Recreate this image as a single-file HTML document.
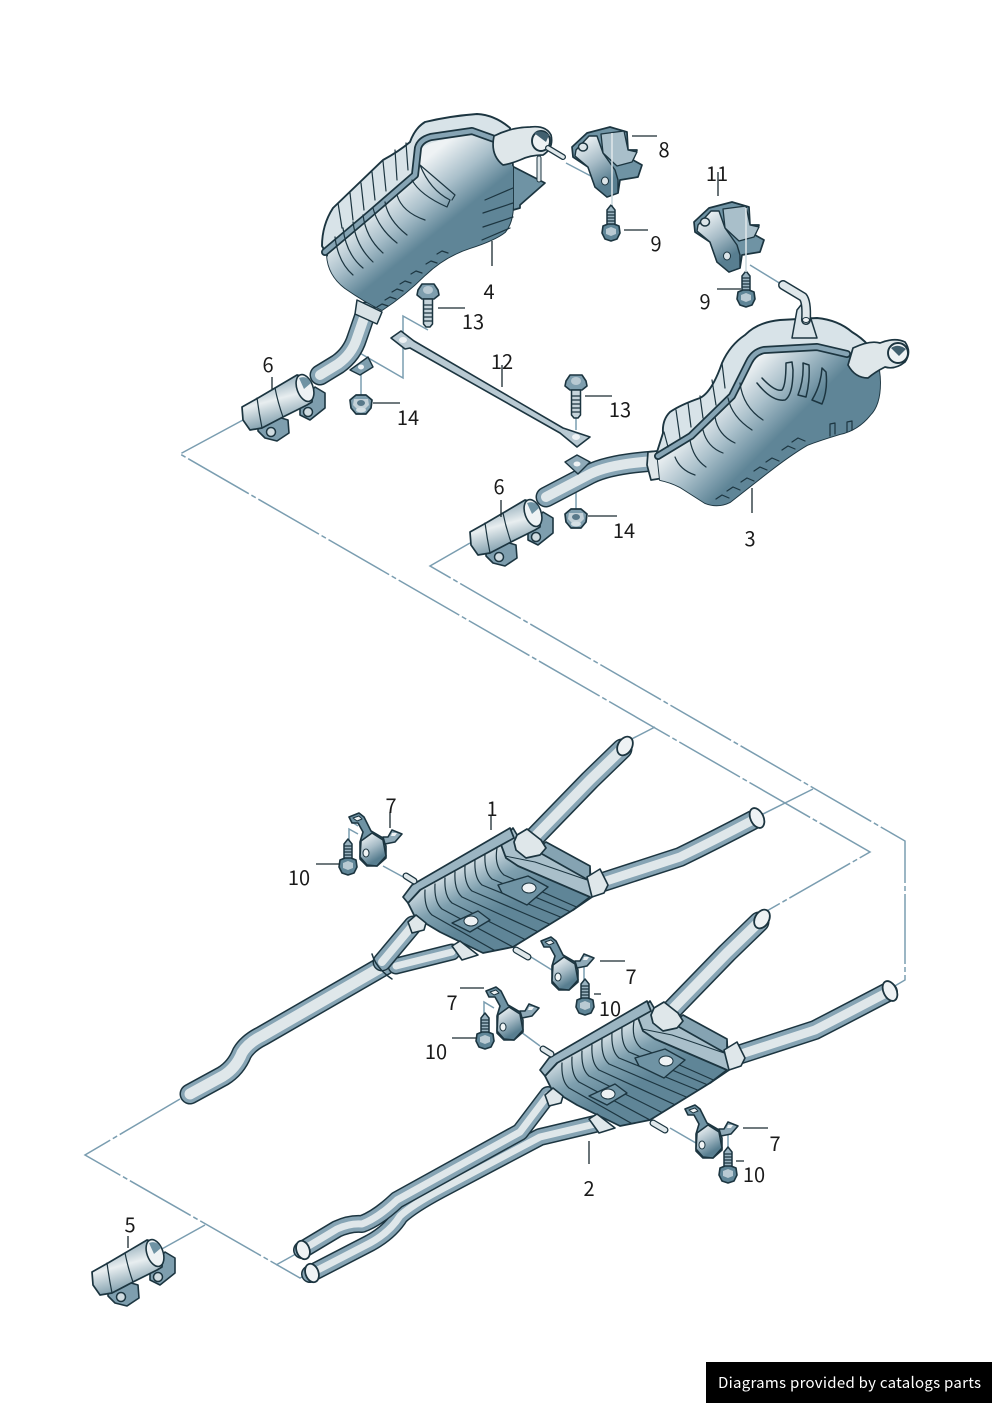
<!DOCTYPE html>
<html><head><meta charset="utf-8"><style>
html,body{margin:0;padding:0;background:#fff;width:992px;height:1403px;overflow:hidden}
svg{display:block}
text{font-family:"Noto Sans CJK JP","Liberation Sans",sans-serif;font-size:20px;fill:#1a1a1a;text-anchor:middle}
.d{fill:none;stroke:#7a9db0;stroke-width:1.5;stroke-dasharray:70 3 5 3}
.a{fill:none;stroke:#7a9db0;stroke-width:1.5}
.l{fill:none;stroke:#1a2a30;stroke-width:1.3}
.o{stroke:#1c3540;stroke-linejoin:round;stroke-linecap:round}
.r{fill:none;stroke:#1c3540;stroke-width:1.2;stroke-linecap:round;stroke-linejoin:round}
.t1{fill:none;stroke:#1c3540;stroke-linecap:round;stroke-linejoin:round}
.t2{fill:none;stroke:#86a4b4;stroke-linecap:round;stroke-linejoin:round}
.t3{fill:none;stroke:#dfe7ea;stroke-linecap:round;stroke-linejoin:round}
</style></head><body>
<svg width="992" height="1403" viewBox="0 0 992 1403" xmlns="http://www.w3.org/2000/svg">
<defs>
<linearGradient id="b4" gradientUnits="userSpaceOnUse" x1="400" y1="180" x2="447" y2="238"><stop offset="0" stop-color="#eef2f4"/><stop offset=".45" stop-color="#a9bfca"/><stop offset=".85" stop-color="#5f8597"/></linearGradient>
<linearGradient id="b3" gradientUnits="userSpaceOnUse" x1="720" y1="395" x2="775" y2="450"><stop offset="0" stop-color="#eef2f4"/><stop offset=".45" stop-color="#a9bfca"/><stop offset=".9" stop-color="#5f8597"/></linearGradient>
<linearGradient id="cg" x1="0.2" y1="0.1" x2="0.55" y2="0.85"><stop offset="0" stop-color="#e6edf0"/><stop offset=".5" stop-color="#a6bbc6"/><stop offset="1" stop-color="#587e90"/></linearGradient>
<linearGradient id="mb" x1="0" y1="0.45" x2="0.3" y2="0.8"><stop offset="0" stop-color="#d8e2e7"/><stop offset=".5" stop-color="#7e9fae"/><stop offset="1" stop-color="#5f8597"/></linearGradient>
<linearGradient id="cl" x1="0.3" y1="0" x2="0.65" y2="1"><stop offset="0" stop-color="#7395a6"/><stop offset=".45" stop-color="#e8eef0"/><stop offset="1" stop-color="#5f8597"/></linearGradient>
<linearGradient id="up" x1="0" y1="0" x2="1" y2="1"><stop offset="0" stop-color="#b9cad3"/><stop offset="1" stop-color="#e6edf0"/></linearGradient>
<clipPath id="mc"><path d="M408,903L423,887L500,842L506,858L518,866L590,897L573,910L513,947L483,953L440,932L415,917Z"/></clipPath>

<g id="bolt">
<path class="o" fill="#9ab3c0" stroke-width="1.5" d="M-4,-22L0,-27L4,-22V-7H-4Z"/>
<path class="r" d="M-3.5,-20H3.5M-3.5,-17H3.5M-3.5,-14H3.5M-3.5,-11H3.5"/>
<path class="o" fill="#5f8597" stroke-width="1.6" d="M-8,-6L-3,-8H3L8,-6L9,1L6,7L0,9L-6,7L-9,1Z"/>
<path fill="#b9cad3" d="M-5,-3L0,-5L5,-3L5,2L0,4L-5,2Z"/>
</g>
<g id="hbolt">
<path class="o" fill="#7e9eae" stroke-width="1.6" d="M-10,-8L-6,-14H6L10,-8L11,-3L6,1H-6L-11,-3Z"/>
<ellipse cx="0" cy="-8" rx="5" ry="4" fill="#b8c9d2"/>
<path class="o" fill="#c6d4db" stroke-width="1.5" d="M-4.5,1H4.5V26L2,29H-2L-4.5,26Z"/>
<path class="r" d="M-4,7H4M-4,11H4M-4,15H4M-4,19H4M-4,23H4"/>
</g>
<g id="nut">
<path class="o" fill="#7e9eae" stroke-width="1.7" d="M-11,-4L-5,-9H5L11,-4L10,4L5,10H-5L-10,4Z"/>
<path fill="#c3d1d8" d="M-7,-5H7L8,1L4,5H-4L-8,1Z"/>
<ellipse cx="0" cy="-1" rx="4" ry="3" fill="#59798a"/>
<ellipse cx="0" cy="6" rx="5" ry="2.5" fill="#d5e0e5"/>
</g>
<g id="clamp">
<path class="o" fill="#7e9eae" stroke-width="1.6" d="M108,1290L128,1282L138,1285L139,1298L127,1306L115,1303L108,1296Z"/>
<path class="o" fill="#7e9eae" stroke-width="1.6" d="M150,1268L165,1252L175,1258L175,1273L160,1285L150,1280Z"/>
<circle cx="121" cy="1297" r="4.5" fill="#cfdbe0" stroke="#1c3540" stroke-width="1.5"/>
<circle cx="158" cy="1277" r="4.5" fill="#cfdbe0" stroke="#1c3540" stroke-width="1.5"/>
<path class="o" fill="url(#cl)" stroke-width="1.7" d="M92,1272L108,1263L125,1253L147,1240L155,1242L163,1253L162,1267L157,1270L133,1282L112,1293L100,1295L93,1285Z"/>
<ellipse cx="155" cy="1253" rx="8" ry="14" transform="rotate(-20 155 1253)" fill="#eef2f4" stroke="#1c3540" stroke-width="1.6"/>
<path d="M149,1243Q157,1240 161,1248L154,1254Z" fill="#6f93a4"/>
<path class="r" d="M107,1263Q109,1278 112,1293M125,1253Q128,1268 133,1282"/>
</g>
<g id="hanger">
<path class="o" fill="#6f93a4" stroke-width="1.6" d="M-18,-23L-8,-27L-3,-23L4,-9L16,-2L19,6L19,18L10,26L0,26L-7,19L-7,2L-4,-8L-9,-17L-15,-17Z"/>
<path class="o" fill="#eef2f4" stroke-width="1" d="M-14,-22L-8,-24L-5,-21L-10,-19Z"/>
<path class="o" fill="url(#cg)" stroke-width="1.6" d="M-6,1L5,-7L16,0L19,16L10,26L0,25L-7,17Z"/>
<ellipse cx="-1" cy="13" rx="3" ry="4" fill="#f0f4f5" stroke="#1c3540"/>
<path class="o" fill="#8faab8" stroke-width="1.6" d="M16,-3L21,-3L25,-10L35,-6L28,2L18,4Z"/>
<path fill="#eef2f4" d="M25,-7L30,-7L28,-4L24,-4Z"/>
</g>
<g id="br">
<path class="o" fill="#6f93a4" stroke-width="1.7" d="M-37,19L-22,5L1,-1L18,4L19,22L28,22L24,32L33,37L29,49L11,52L9,65L-2,69L-14,59L-21,39L-36,29Z"/>
<path class="o" fill="#a9bfca" stroke-width="1.3" d="M-8,6L15,3L19,22L28,24L23,34L8,38L-6,25Z"/>
<path class="o" fill="url(#cg)" stroke-width="1.4" d="M-33,22L-20,8L-12,8L-6,25L6,42L9,52L9,65L-2,69L-14,59L-21,39L-34,28Z"/>
<ellipse cx="-26" cy="19" rx="4.5" ry="4" fill="#dce5e9" stroke="#1c3540" stroke-width="1.5"/>
<ellipse cx="-4" cy="53" rx="3.5" ry="4" fill="#dce5e9" stroke="#1c3540"/>
</g>
<g id="mid">
<path class="t1" stroke-width="21" d="M524,848L590,780L622,749"/>
<path class="t2" stroke-width="18" d="M524,848L590,780L622,749"/>
<path class="t3" stroke-width="10" d="M524,848L590,780L622,749"/>
<ellipse cx="625" cy="746" rx="7" ry="10" transform="rotate(30 625 746)" fill="#eef2f4" stroke="#1c3540" stroke-width="1.8"/>
<path class="o" fill="#a9bfca" stroke-width="1.7" d="M500,842L513,828L520,840L590,868L592,897L573,910L520,900Z"/>
<path class="o" fill="#85a3b2" stroke-width="1.7" d="M546,842L590,866L590,881L535,850Z"/>
<path class="o" fill="#a9bfca" stroke-width="1" d="M505,856L535,862L590,881L592,897L573,910L505,870Z"/>
<path class="o" fill="url(#mb)" stroke-width="1.8" d="M408,903L423,887L500,842L506,858L518,866L590,897L573,910L513,947L483,953L440,932L415,917Z"/>
<path class="o" fill="#9bb5c2" stroke-width="1.7" d="M403,897L412,885L510,828L514,838L420,890L408,903Z"/>
<g clip-path="url(#mc)"><path class="r" d="M425,890Q424,908 432,915L515,962M435,884Q434,902 442,909L528,955M445,878Q444,896 452,903L542,948M455,872Q454,890 462,897L556,940M465,866Q464,884 472,891L568,932M475,860Q474,878 482,885L580,925M485,854Q484,872 492,879L590,920M497,848Q494,866 504,875L590,913"/></g>
<path class="o" fill="#6f93a4" stroke-width="1.4" d="M498,885L528,876L548,887L527,905L502,893Z"/>
<ellipse cx="529" cy="888" rx="7" ry="5" fill="#eef2f4" stroke="#1c3540"/>
<path class="o" fill="#6f93a4" stroke-width="1.4" d="M452,923L478,911L490,920L470,932Z"/>
<ellipse cx="471" cy="921" rx="7" ry="5" fill="#eef2f4" stroke="#1c3540"/>
<path class="o" fill="#dfe7ea" stroke-width="1.7" d="M517,835L527,829L541,840L546,848L540,855L526,858L516,850L514,842Z"/>
<path class="o" fill="#dfe7ea" stroke-width="1.6" d="M587,877L600,869L608,885L604,893L592,897Z"/>
<path class="o" fill="#dfe7ea" stroke-width="1.6" d="M408,922L416,915L426,923L424,930L412,933Z"/>
<path class="o" fill="#dfe7ea" stroke-width="1.6" d="M452,946L460,941L478,955L462,960Z"/>
<path class="t1" stroke-width="7" d="M406,876L414,881"/><path class="t3" stroke-width="4.5" d="M406,876L414,881"/>
<path class="t1" stroke-width="7" d="M516,950L528,957"/><path class="t3" stroke-width="4.5" d="M516,950L528,957"/>
</g>
</defs>

<!-- dash lines -->
<path class="d" d="M243,420L180,454L870,852L765,912"/>
<path class="d" d="M470,543L430,566L905,841L905,980L888,990"/>
<path class="d" d="M655,727L620,745"/>
<path class="d" d="M813,789L757,817"/>
<path class="d" d="M180,1099L85,1155L300,1278L312,1272"/>
<path class="d" d="M205,1225L160,1250"/>
<path class="a" d="M276,1265L303,1250"/>
<path class="a" d="M358,352L403,378L403,316L428,330"/>
<path class="a" d="M361,362V396"/>
<path class="a" d="M576,460V512M576,414V430"/>
<path class="a" d="M566,163L606,184M612,130V210"/>
<path class="a" d="M746,214V278M750,265L781,284"/>
<path class="a" d="M349,851V829L358,834M358,826L352,822"/>
<path class="a" d="M383,866L405,878M584,988V965M531,957L560,975M484,1020L484,1002L494,1008M521,1032L540,1046M728,1155V1130M670,1128L708,1150"/>

<!-- pipes lower 1 -->
<path class="t1" stroke-width="21" d="M190,1094L223,1076Q236,1068 242,1053Q248,1043 262,1036L385,965"/>
<path class="t2" stroke-width="18" d="M190,1094L223,1076Q236,1068 242,1053Q248,1043 262,1036L385,965"/>
<path class="t3" stroke-width="11" d="M190,1094L223,1076Q236,1068 242,1053Q248,1043 262,1036L385,965"/>
<path class="t1" stroke-width="17" d="M396,966L452,952"/><path class="t2" stroke-width="14" d="M396,966L452,952"/><path class="t3" stroke-width="7" d="M396,966L452,952"/>
<path class="t1" stroke-width="19" d="M382,962L413,925"/><path class="t2" stroke-width="16" d="M382,962L413,925"/><path class="t3" stroke-width="8" d="M382,962L413,925"/>
<path class="r" style="stroke-width:1.5" d="M372,954Q376,968 392,979"/>
<path class="t1" stroke-width="20" d="M603,882L680,857Q715,840 753,820"/>
<path class="t2" stroke-width="17" d="M603,882L680,857Q715,840 753,820"/>
<path class="t3" stroke-width="9" d="M603,882L680,857Q715,840 753,820"/>
<ellipse cx="757" cy="818" rx="6.5" ry="10.5" transform="rotate(-25 757 818)" fill="#eef2f4" stroke="#1c3540" stroke-width="1.8"/>

<use href="#mid"/>

<!-- assembly 2 pipes -->
<path class="t1" stroke-width="20" d="M738,1055L815,1030Q850,1012 888,992"/>
<path class="t2" stroke-width="17" d="M738,1055L815,1030Q850,1012 888,992"/>
<path class="t3" stroke-width="9" d="M738,1055L815,1030Q850,1012 888,992"/>
<ellipse cx="890" cy="991" rx="6.5" ry="10.5" transform="rotate(-25 890 991)" fill="#eef2f4" stroke="#1c3540" stroke-width="1.8"/>
<path class="t1" stroke-width="18" d="M310,1274L370,1243Q390,1232 400,1216Q412,1205 440,1190L540,1137L595,1124"/>
<path class="t2" stroke-width="15" d="M310,1274L370,1243Q390,1232 400,1216Q412,1205 440,1190L540,1137L595,1124"/>
<path class="t3" stroke-width="7" d="M310,1274L370,1243Q390,1232 400,1216Q412,1205 440,1190L540,1137L595,1124"/>
<path class="t1" stroke-width="18" d="M302,1250L337,1229Q350,1223 362,1224Q378,1218 397,1200L520,1132L548,1095"/>
<path class="t2" stroke-width="15" d="M302,1250L337,1229Q350,1223 362,1224Q378,1218 397,1200L520,1132L548,1095"/>
<path class="t3" stroke-width="7" d="M302,1250L337,1229Q350,1223 362,1224Q378,1218 397,1200L520,1132L548,1095"/>
<ellipse cx="303" cy="1250" rx="6.5" ry="9.5" transform="rotate(-20 303 1250)" fill="#eef2f4" stroke="#1c3540" stroke-width="1.8"/>
<ellipse cx="312" cy="1273" rx="6.5" ry="9.5" transform="rotate(-20 312 1273)" fill="#eef2f4" stroke="#1c3540" stroke-width="1.8"/>

<use href="#mid" x="137" y="173"/>

<!-- muffler 4 -->
<path class="t1" stroke-width="21" d="M320,375L338,364Q352,354 357,338L366,312"/>
<path class="t2" stroke-width="18" d="M320,375L338,364Q352,354 357,338L366,312"/>
<path class="t3" stroke-width="10" d="M320,375L338,364Q352,354 357,338L366,312"/>
<path class="o" fill="#7e9eae" stroke-width="1.4" d="M350,370L368,357L373,367L360,375Z"/><ellipse cx="361" cy="367" rx="3" ry="2.5" fill="#eef2f4"/>
<path class="o" fill="#d8e2e6" stroke-width="1.5" d="M357,300L382,312L377,324L355,314Z"/>
<path class="o" fill="#6f93a4" stroke-width="1.7" d="M510,165L545,183L520,205L520,208L513,210Z"/>
<path class="o" fill="#d8e3e8" stroke-width="1.9" d="M322,246Q322,225 333,208L383,160Q398,152 410,142Q415,128 425,122Q450,116 477,114Q495,115 510,128L513,167L513,205Q513,222 505,232Q495,240 470,248Q445,256 425,275Q405,295 382,310Q365,302 345,288Q328,275 327,255Z"/>
<path fill="url(#b4)" d="M327,257L373,218L418,180Q418,150 422,148Q431,140 472,135Q490,138 500,146L513,167L513,205Q513,222 505,232Q495,240 470,248Q445,256 425,275Q405,295 382,310Q365,302 345,288Q328,275 327,255Z"/>
<path class="t1" stroke-width="8" d="M325,252L370,214L415,175L418,148Q420,140 431,137L472,131L500,141"/>
<path class="t2" stroke-width="4.5" d="M325,252L370,214L415,175L418,148Q420,140 431,137L472,131L500,141"/>
<path class="r" d="M335,237Q338,262 353,275M343,228Q346,254 363,268M353,222Q356,246 373,262M363,215Q366,238 383,253M373,208Q378,228 397,243M385,202Q388,220 407,235M397,195Q402,212 425,220M412,180Q420,195 447,207L450,200Q430,190 420,165L455,195L452,200M485,200L513,188M483,213L513,203M483,227L513,217M482,240L510,228"/>
<path class="r" d="M437,254l5,-3l6,2M426,264l5,-3l6,2M411,274l5,-3l6,2M400,284l5,-3l6,2M392,292l5,-3l6,2M385,300l5,-3l6,2M377,307l5,-3l6,2"/>
<path class="r" d="M338,203L342,228M350,193L353,220M361,183L364,210M372,172L375,200M383,161L386,191M395,150L397,180M406,143L408,170"/>
<path class="o" fill="#dfe7ea" stroke-width="1.7" d="M494,136Q512,127 530,127Q546,125 551,135Q554,148 543,155Q530,155 520,160Q510,164 503,165Q490,155 494,136Z"/>
<ellipse cx="541" cy="141" rx="9" ry="10" fill="#eef2f4" stroke="#1c3540" stroke-width="1.9"/>
<path d="M534,133Q541,129 549,135L546,142Z" fill="#41606f"/>
<path class="t1" stroke-width="6" d="M548,148L563,157"/><path class="t3" stroke-width="3.5" d="M548,148L563,157"/>
<path class="t1" stroke-width="5" d="M539,158V180"/><path class="t3" stroke-width="3" d="M539,158V180"/>

<!-- muffler 3 -->
<path class="t1" stroke-width="21" d="M546,497L590,474Q610,464 655,461"/>
<path class="t2" stroke-width="18" d="M546,497L590,474Q610,464 655,461"/>
<path class="t3" stroke-width="10" d="M546,497L590,474Q610,464 655,461"/>
<path class="o" fill="#dfe7ea" stroke-width="1.7" d="M648,452L657,451L664,478L651,480L647,465Z"/>
<path class="o" fill="#d8e3e8" stroke-width="1.9" d="M663,433Q662,420 670,412Q680,405 700,398Q712,392 722,363Q730,345 745,335Q758,322 780,320L817,318Q838,320 852,332Q862,338 868,345Q880,360 880,383Q880,405 870,415Q858,430 840,434Q820,440 807,445Q790,455 767,473L730,502Q718,508 705,503L680,487Q670,482 660,480L657,452Z"/>
<path class="o" fill="url(#b3)" stroke="none" style="stroke:none" d="M657,452L690,433L730,393Q740,372 747,360Q752,350 762,348L817,345L847,352Q860,356 868,345Q880,360 880,383Q880,405 870,415Q858,430 840,434Q820,440 807,445Q790,455 767,473L730,502Q718,508 705,503L680,487Q670,482 660,480Z"/>
<path class="t1" stroke-width="8" d="M658,456L691,436L732,396L749,362Q754,352 764,350L817,347L847,354"/>
<path class="t2" stroke-width="4.5" d="M658,456L691,436L732,396L749,362Q754,352 764,350L817,347L847,354"/>
<path class="r" d="M664,432L668,447M676,410L680,438M688,403L691,427M700,396L703,418M712,380L716,405M722,363L725,388"/>
<path class="r" d="M675,457Q680,470 695,475M690,440Q693,458 706,467M703,430Q707,447 723,453M715,417Q718,435 735,443M728,398Q732,417 752,430M740,383Q743,407 763,420"/>
<path class="r" style="stroke-width:1.5" d="M757,383Q772,402 785,400Q793,395 793,370L792,362M762,378Q775,392 782,390Q786,385 786,363L792,362M803,363L809,365Q810,382 806,397L798,395Q804,380 803,363ZM822,368L826,372Q828,390 822,404L812,400Q821,385 822,368Z"/>
<path class="r" d="M830,436V424L835,423V434M847,432V422L852,421V430"/>
<path class="r" d="M716,499l6,-4l7,3M727,491l6,-4l7,3M741,482l6,-4l7,3M754,471l6,-4l7,3M766,462l6,-4l7,3M782,450l6,-4l7,3M792,442l6,-4l7,3"/>
<path class="o" fill="#d8e3e8" stroke-width="1.5" d="M792,338L797,310L805,300L817,338Z"/>
<path class="t1" stroke-width="10" d="M783,285L803,297Q807,302 806,320"/><path class="t3" stroke-width="7" d="M783,285L803,297Q807,302 806,320"/>
<ellipse cx="806" cy="320" rx="3.5" ry="2.5" fill="#eef2f4" stroke="#1c3540"/>
<path class="o" fill="#dfe7ea" stroke-width="1.7" d="M853,348Q870,340 880,343Q895,337 905,342Q912,352 905,362Q895,370 885,367Q875,372 868,378Q855,378 848,365Z"/>
<ellipse cx="898" cy="353" rx="10" ry="10" fill="#eef2f4" stroke="#1c3540" stroke-width="1.9"/>
<path d="M891,348Q898,343 906,349L899,356Z" fill="#41606f"/>

<!-- strap 12 -->
<path class="o" fill="#b9cad3" stroke-width="1.6" d="M391,338L401,331L414,341L563,428L590,437L577,447L560,433L410,348L405,349Z"/>
<ellipse cx="403" cy="340" rx="4" ry="3" fill="#eef2f4"/>
<ellipse cx="576" cy="437" rx="4" ry="3" fill="#eef2f4"/>
<path class="o" fill="#8faab8" stroke-width="1.4" d="M565,462L577,455L590,462L578,474Z"/><ellipse cx="577" cy="464" rx="3.5" ry="2.5" fill="#eef2f4"/>

<!-- fasteners -->
<use href="#bolt" x="611" y="232"/><use href="#bolt" x="746" y="298"/>
<use href="#bolt" x="348" y="866"/><use href="#bolt" x="585" y="1006"/><use href="#bolt" x="485" y="1040"/><use href="#bolt" x="728" y="1174"/>
<use href="#hbolt" x="428" y="298"/><use href="#hbolt" x="576" y="389"/>
<use href="#nut" x="361" y="404"/><use href="#nut" x="576" y="518"/>
<use href="#br" x="609" y="128"/><use href="#br" x="731" y="203"/>
<path class="a" d="M612,133V205M746,208V272" stroke="#dfe7ea" style="stroke:#dfe7ea"/>
<use href="#hanger" x="367" y="840"/><use href="#hanger" x="559" y="964"/><use href="#hanger" x="504" y="1014"/><use href="#hanger" x="703" y="1132"/>
<use href="#clamp"/><use href="#clamp" x="150" y="-865"/><use href="#clamp" x="378" y="-740"/>

<!-- leaders -->
<path class="l" d="M492,241V266M632,136H657M624,230H648M718,172V196M717,289H741M272,377V389M438,308H465M585,396H612M373,403H400M588,516H617M752,488V513M502,365V387M501,500V517M390,812V828M491,815V830M316,864H340M600,961H625M594,994H601M460,988H484M452,1038H477M743,1128H768M736,1161H744M589,1141V1164M128,1236V1248"/>

<!-- labels -->
<text x="664" y="157">8</text><text x="656" y="251">9</text><text x="717" y="181">11</text><text x="705" y="309">9</text>
<text x="489" y="299">4</text><text x="473" y="329">13</text><text x="268" y="372">6</text><text x="408" y="425">14</text>
<text x="502" y="369">12</text><text x="620" y="417">13</text><text x="499" y="494">6</text><text x="624" y="538">14</text><text x="750" y="546">3</text>
<text x="391" y="813">7</text><text x="492" y="816">1</text><text x="299" y="885">10</text><text x="631" y="984">7</text><text x="610" y="1016">10</text>
<text x="452" y="1010">7</text><text x="436" y="1059">10</text><text x="775" y="1151">7</text><text x="754" y="1182">10</text><text x="589" y="1196">2</text><text x="130" y="1232">5</text>

<rect x="706" y="1362" width="286" height="41" fill="#000"/>
<text x="849.5" y="1388" textLength="263" style="font-size:15px;fill:#fff">Diagrams provided by catalogs parts</text>
</svg>
</body></html>
